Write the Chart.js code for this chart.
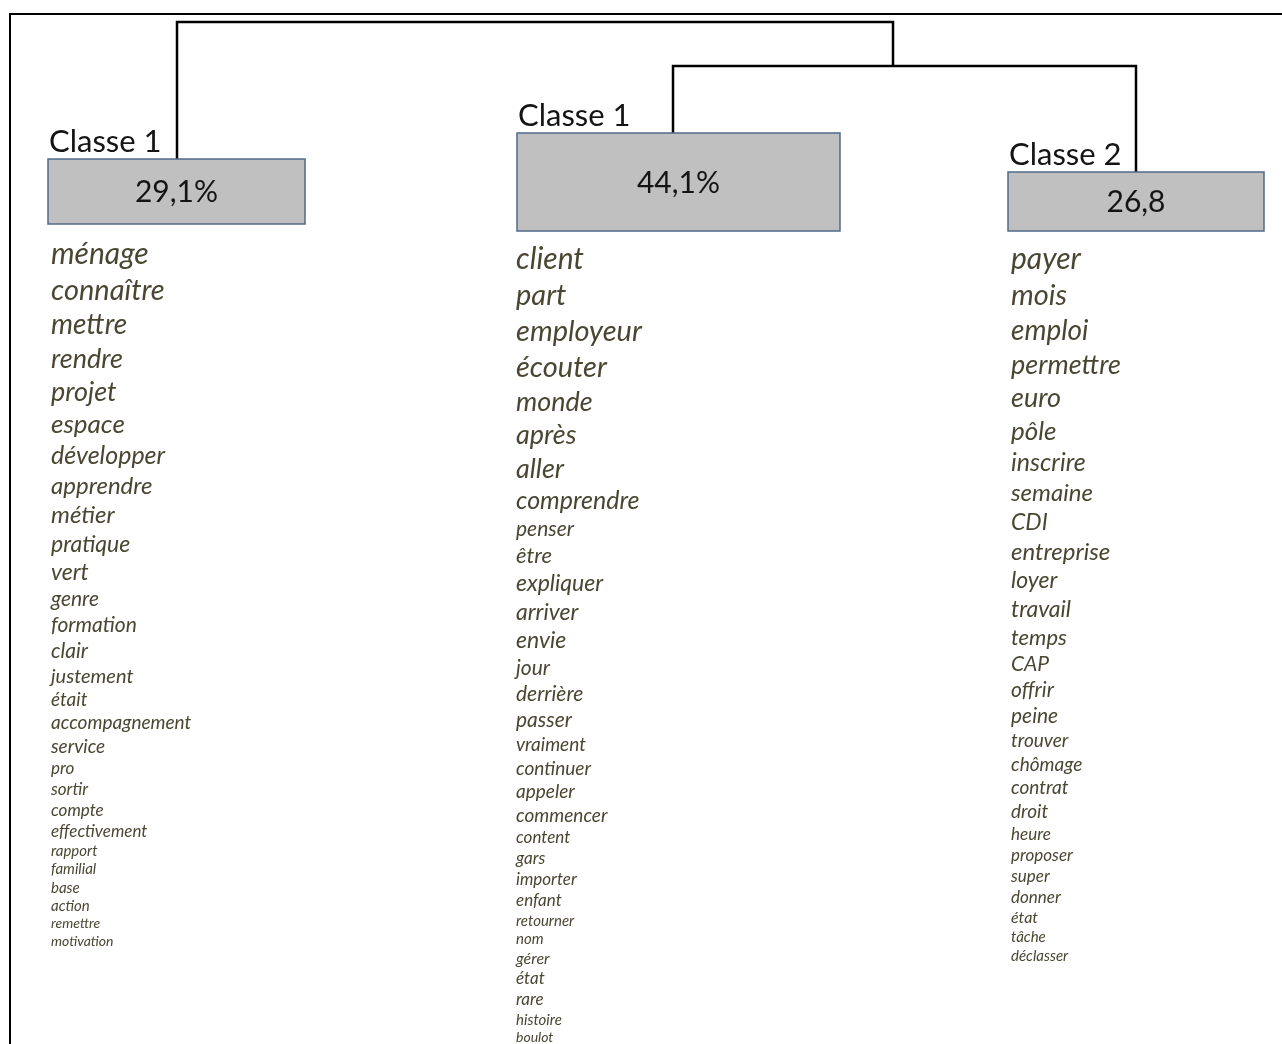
<!DOCTYPE html>
<html>
<head>
<meta charset="utf-8">
<script src="https://cdn.jsdelivr.net/npm/chart.js@4"></script>
<style>
  html, body { margin: 0; padding: 0; background: #fff; overflow: hidden; }
  #wrap { position: relative; width: 1282px; height: 1044px; }
  #frame { position: absolute; left: 9px; top: 13px; right: -10px; bottom: -10px;
           border-left: 2px solid #000; border-top: 2px solid #000; }
  canvas { position: absolute; left: 0; top: 0; }
</style>
</head>
<body>
<div id="wrap">
  <div id="frame"></div>
  <canvas id="tree" width="1282" height="1044"></canvas>
</div>
<script>
// classes of the dendrogram
var classLabels = ['Classe 1', 'Classe 1', 'Classe 2'];
var classShares = ['29,1%', '44,1%', '26,8'];

// words of each class, most significant first
var words1 = ['ménage', 'connaître', 'mettre', 'rendre', 'projet', 'espace', 'développer', 'apprendre',
    'métier', 'pratique', 'vert', 'genre', 'formation', 'clair', 'justement', 'était', 'accompagnement',
    'service', 'pro', 'sortir', 'compte', 'effectivement', 'rapport', 'familial', 'base', 'action',
    'remettre', 'motivation'];
var words2 = ['client', 'part', 'employeur', 'écouter', 'monde', 'après', 'aller', 'comprendre', 'penser',
    'être', 'expliquer', 'arriver', 'envie', 'jour', 'derrière', 'passer', 'vraiment', 'continuer',
    'appeler', 'commencer', 'content', 'gars', 'importer', 'enfant', 'retourner', 'nom', 'gérer', 'état',
    'rare', 'histoire', 'boulot'];
var words3 = ['payer', 'mois', 'emploi', 'permettre', 'euro', 'pôle', 'inscrire', 'semaine', 'CDI',
    'entreprise', 'loyer', 'travail', 'temps', 'CAP', 'offrir', 'peine', 'trouver', 'chômage', 'contrat',
    'droit', 'heure', 'proposer', 'super', 'donner', 'état', 'tâche', 'déclasser'];

// --- styling / layout below ---
var sizes1 = [30, 29, 28, 27, 27, 26, 25, 24, 24, 23, 23, 21, 21, 21, 20, 19, 19, 19, 17, 17, 17, 17,
    15, 15, 15, 15, 14, 14];
var sizes2 = [30, 29, 29, 29, 27, 27, 27, 25, 21, 22, 23, 23, 23, 21, 21, 21, 19, 19, 19, 19, 17, 17,
    17, 17, 15, 15, 16, 17, 17, 15, 14];
var sizes3 = [30, 29, 28, 27, 27, 26, 25, 24, 23, 24, 23, 23, 22, 21, 21, 21, 19, 19, 19, 19, 17, 17,
    17, 17, 16, 15, 15];

var boxes = [
    { x0: 48, x1: 305, y0: 159, y1: 224, stem: 177, textX: 51, textY: 254, lf: 1.227 },
    { x0: 517, x1: 840, y0: 133, y1: 231, stem: 673, textX: 516, textY: 259, lf: 1.238 },
    { x0: 1008, x1: 1264, y0: 172, y1: 231, stem: 1136, textX: 1011, textY: 259, lf: 1.241 }
];
var mergeLow = { y: 66, stem: 893 };
var mergeTop = { y: 22 };

var allWords = [words1, words2, words3];
var allSizes = [sizes1, sizes2, sizes3];
var wordFont = 'Lato, "Open Sans", sans-serif';
var fontScale = 1.0;

function seg(points) {
    return {
        data: points,
        showLine: true,
        borderColor: '#000',
        borderWidth: 2.5,
        pointRadius: 0,
        fill: false
    };
}

var datasets = [
    seg([{ x: boxes[1].stem, y: boxes[1].y0 }, { x: boxes[1].stem, y: mergeLow.y },
         { x: boxes[2].stem, y: mergeLow.y }, { x: boxes[2].stem, y: boxes[2].y0 }]),
    seg([{ x: boxes[0].stem, y: boxes[0].y0 }, { x: boxes[0].stem, y: mergeTop.y },
         { x: mergeLow.stem, y: mergeTop.y }, { x: mergeLow.stem, y: mergeLow.y }])
];

var classPlugin = {
    id: 'classPlugin',
    afterDatasetsDraw: function (chart) {
        var ctx = chart.ctx;
        var sx = chart.scales.x, sy = chart.scales.y;
        ctx.save();
        boxes.forEach(function (b, i) {
            var x0 = sx.getPixelForValue(b.x0), x1 = sx.getPixelForValue(b.x1);
            var y0 = sy.getPixelForValue(b.y0), y1 = sy.getPixelForValue(b.y1);
            ctx.fillStyle = '#c0c0c0';
            ctx.fillRect(x0, y0, x1 - x0, y1 - y0);
            ctx.strokeStyle = '#4f6a8c';
            ctx.lineWidth = 1.5;
            ctx.strokeRect(x0, y0, x1 - x0, y1 - y0);

            ctx.fillStyle = '#141414';
            ctx.font = '30px ' + wordFont;
            ctx.textAlign = 'center';
            ctx.textBaseline = 'middle';
            ctx.fillText(classShares[i], (x0 + x1) / 2, (y0 + y1) / 2 + 1);

            ctx.font = '31px ' + wordFont;
            ctx.textAlign = 'left';
            ctx.textBaseline = 'alphabetic';
            ctx.fillText(classLabels[i], x0 + 1, y0 - 7);

            // word list
            var list = allWords[i], sz = allSizes[i];
            var y = sy.getPixelForValue(b.textY);
            ctx.fillStyle = '#4a4632';
            ctx.textBaseline = 'middle';
            for (var k = 0; k < list.length; k++) {
                if (k > 0) y += b.lf * (sz[k - 1] + sz[k]) / 2;
                ctx.font = 'italic ' + (sz[k] * fontScale).toFixed(1) + 'px ' + wordFont;
                ctx.fillText(list[k], sx.getPixelForValue(b.textX), y);
            }
        });
        ctx.restore();
    }
};

var ctx = document.getElementById('tree').getContext('2d');
var chart = new Chart(ctx, {
    type: 'scatter',
    data: { datasets: datasets },
    options: {
        responsive: false,
        animation: false,
        devicePixelRatio: 1,
        layout: { padding: 0 },
        plugins: { legend: { display: false }, tooltip: { enabled: false } },
        scales: {
            x: { type: 'linear', min: 0, max: 1282, display: false },
            y: { type: 'linear', min: 0, max: 1044, reverse: true, display: false }
        }
    },
    plugins: [classPlugin]
});
</script>
</body>
</html>
